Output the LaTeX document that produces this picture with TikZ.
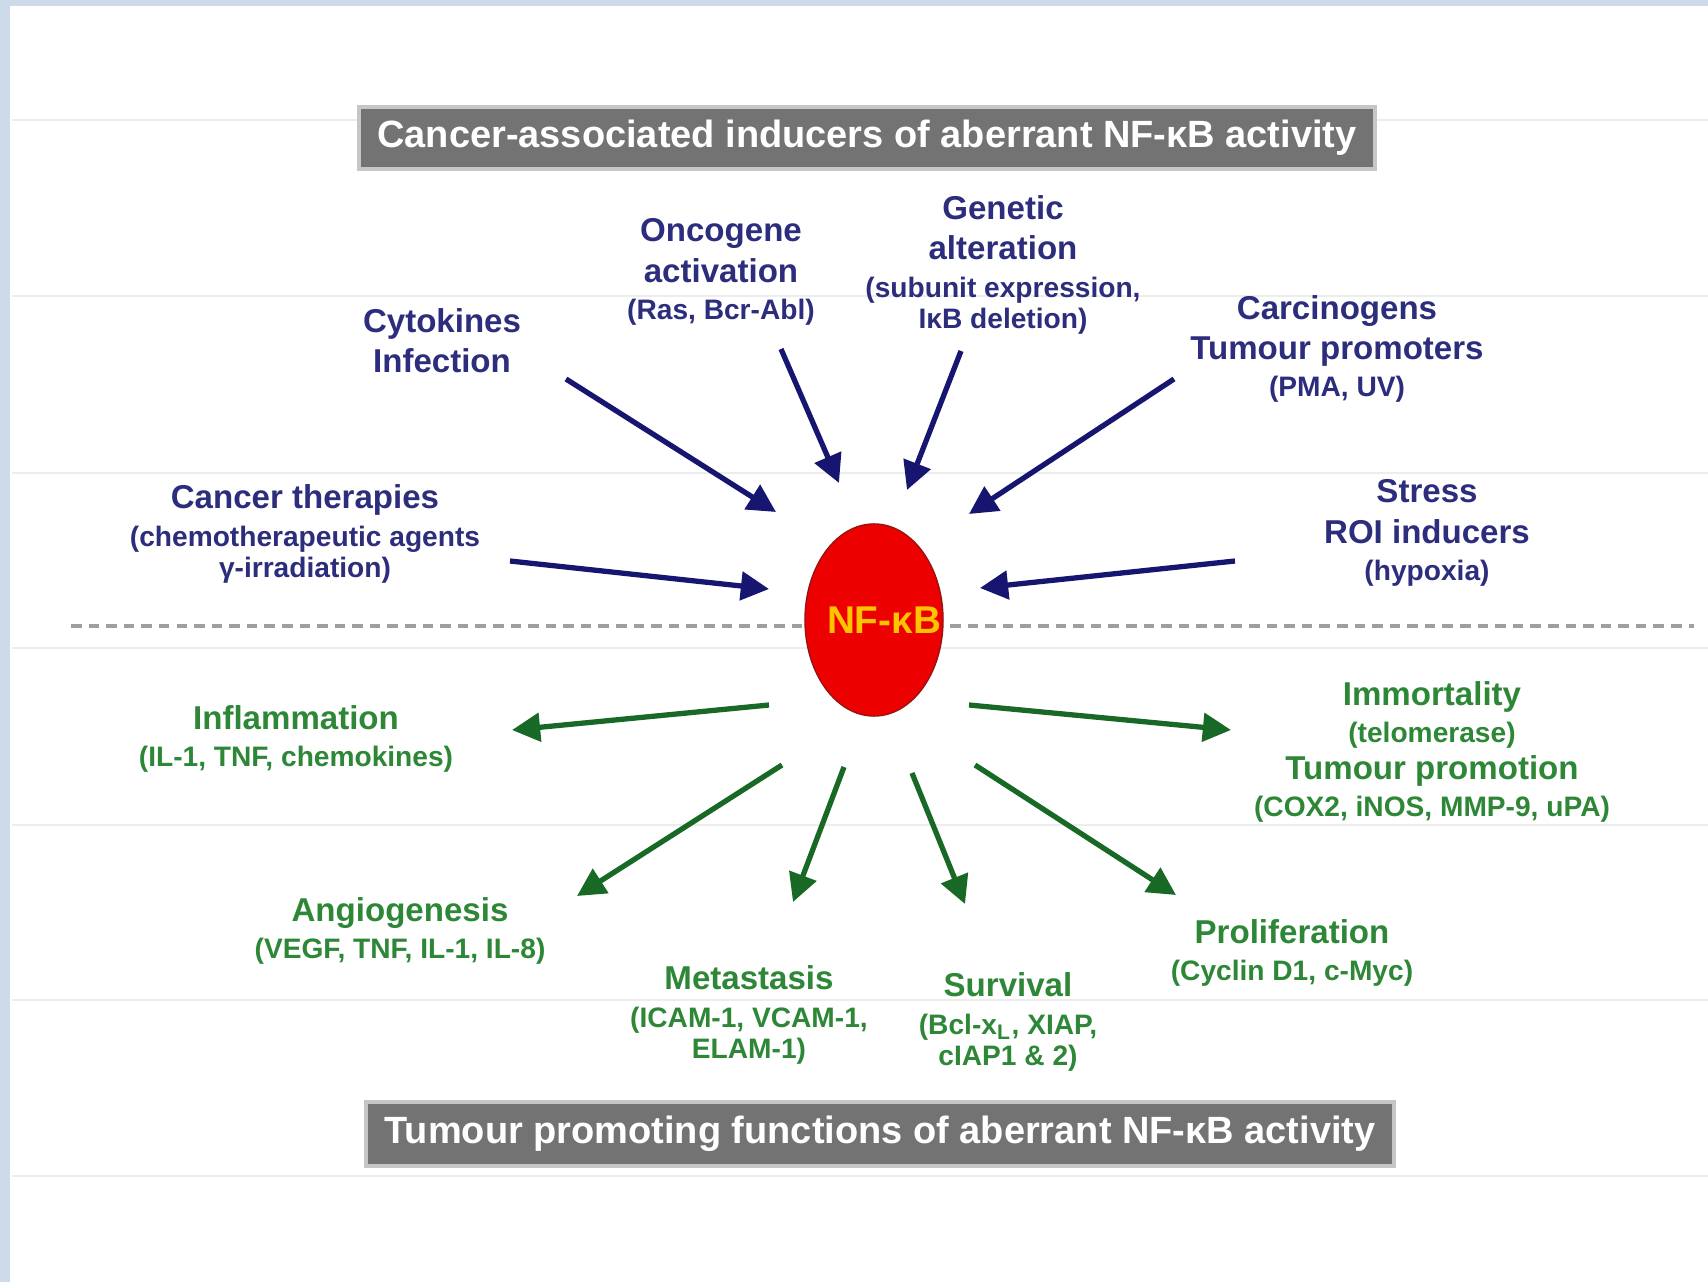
\documentclass[tikz,border=0pt]{standalone}
\usepackage{fontspec}
\setmainfont{Liberation Sans}
\usepackage{tikz}
\usetikzlibrary{arrows.meta, shapes.geometric}

\definecolor{navytxt}{RGB}{45,45,125}
\definecolor{navyarr}{RGB}{22,22,112}
\definecolor{greentxt}{RGB}{45,135,55}
\definecolor{greenarr}{RGB}{25,105,38}
\definecolor{bannergray}{RGB}{115,115,115}
\definecolor{hubred}{RGB}{236,0,0}
\definecolor{hubrim}{RGB}{150,20,20}
\definecolor{hubtext}{RGB}{255,196,0}
\definecolor{edgeblue}{RGB}{205,218,232}

\newcommand{\sml}[1]{{\fontsize{8}{9}\selectfont #1}}

\begin{document}
\begin{tikzpicture}[
  x=0.01cm, y=-0.01cm,
  font=\bfseries\fontsize{9.4}{10.6}\selectfont,
  banner/.style={
    rectangle, fill=bannergray, draw=gray!45,
    line width=1.2pt, text=white,
    font=\bfseries\fontsize{10.8}{13}\selectfont,
    minimum height=0.62cm, inner sep=0pt
  },
  hub/.style={
    ellipse, fill=hubred, draw=hubrim, thin,
    minimum width=1.38cm, minimum height=1.92cm,
    inner sep=0pt, outer sep=0pt,
    text=hubtext, font=\bfseries\fontsize{11}{13}\selectfont
  },
  cause/.style={align=center, text=navytxt, inner sep=0pt},
  effect/.style={align=center, text=greentxt, inner sep=0pt},
  inarr/.style={draw=navyarr, line width=1.5pt, -{Triangle[length=8pt, width=8pt]}},
  outarr/.style={draw=greenarr, line width=1.5pt, -{Triangle[length=8pt, width=8pt]}},
  faint/.style={draw=gray!14, line width=0.4pt},
  divider/.style={draw=gray!75, line width=0.9pt, dash pattern=on 3pt off 2pt},
]
\useasboundingbox (0,0) rectangle (1708,1282);
\fill[white] (0,0) rectangle (1708,1282);

% --- Frame and guide lines ---
\fill[edgeblue] (0,0) rectangle (10,1282);
\fill[edgeblue] (0,0) rectangle (1708,6);
\foreach \yy in {120,296,473,648,825,1000,1176}
  \draw[faint] (12,\yy) -- (1708,\yy);
\draw[divider] (71,626) -- (1694,626);

% --- Banners ---
\node[banner, minimum width=10.16cm] (TOP) at (867,138) {Cancer-associated inducers of aberrant NF-κB activity};
\node[banner, minimum width=10.27cm, minimum height=0.64cm] (BOT) at (880,1134) {Tumour promoting functions of aberrant NF-κB activity};

% --- Hub ---
\node[hub] (NFKB) at (874,620) {\makebox[0pt]{\hspace{0.2cm}NF-κB}};

% --- Inducers ---
\node[cause] (CYTO) at (442,341) {Cytokines\\[0.8pt] Infection};
\node[cause] (ONCO) at (721,272) {Oncogene\\[0.8pt] activation\\ \sml{(Ras, Bcr-Abl)}};
\node[cause] (GEN) at (1003,265) {Genetic\\[0.8pt] alteration\\ \sml{(subunit expression,}\\[-1.8pt] \sml{IκB deletion)}};
\node[cause] (CARC) at (1337,349) {Carcinogens\\[0.8pt] Tumour promoters\\ \sml{(PMA, UV)}};
\node[cause] (THER) at (305,534) {Cancer therapies\\ \sml{(chemotherapeutic agents}\\[-1.8pt] \sml{γ-irradiation)}};
\node[cause] (STRS) at (1427,533) {Stress\\[0.8pt] ROI inducers\\ \sml{(hypoxia)}};

% --- Functions ---
\node[effect] (INFL) at (296,739) {Inflammation\\ \sml{(IL-1, TNF, chemokines)}};
\node[effect] (IMMO) at (1432,752) {Immortality\\ \sml{(telomerase)}\\ Tumour promotion\\ \sml{(COX2, iNOS, MMP-9, uPA)}};
\node[effect] (ANGI) at (400,931) {Angiogenesis\\ \sml{(VEGF, TNF, IL-1, IL-8)}};
\node[effect] (META) at (749,1015) {Metastasis\\ \sml{(ICAM-1, VCAM-1,}\\[-1.8pt] \sml{ELAM-1)}};
\node[effect] (SURV) at (1008,1022) {Survival\\ \sml{(Bcl-x\textsubscript{L}, XIAP,}\\[-1.8pt] \sml{cIAP1 \& 2)}};
\node[effect] (PROL) at (1292,953) {Proliferation\\ \sml{(Cyclin D1, c-Myc)}};

% --- Arrows in ---
\draw[inarr] ([shift={(124,38)}]CYTO.center) -- ([shift={(-98,-108)}]NFKB.center);
\draw[inarr] ([shift={(60,77)}]ONCO.center) -- ([shift={(-35,-137)}]NFKB.center);
\draw[inarr] ([shift={(-42,86)}]GEN.center) -- ([shift={(33,-130)}]NFKB.center);
\draw[inarr] ([shift={(-163,30)}]CARC.center) -- ([shift={(95,-106)}]NFKB.center);
\draw[inarr] ([shift={(205,27)}]THER.center) -- ([shift={(-105,-31)}]NFKB.center);
\draw[inarr] ([shift={(-192,28)}]STRS.center) -- ([shift={(106,-32)}]NFKB.center);

% --- Arrows out ---
\draw[outarr] ([shift={(-105,85)}]NFKB.center) -- ([shift={(216,-9)}]INFL.center);
\draw[outarr] ([shift={(95,85)}]NFKB.center) -- ([shift={(-201,-22)}]IMMO.center);
\draw[outarr] ([shift={(-92,145)}]NFKB.center) -- ([shift={(177,-35)}]ANGI.center);
\draw[outarr] ([shift={(-30,147)}]NFKB.center) -- ([shift={(44,-113)}]META.center);
\draw[outarr] ([shift={(38,153)}]NFKB.center) -- ([shift={(-43,-118)}]SURV.center);
\draw[outarr] ([shift={(101,145)}]NFKB.center) -- ([shift={(-116,-58)}]PROL.center);

\end{tikzpicture}
\end{document}
